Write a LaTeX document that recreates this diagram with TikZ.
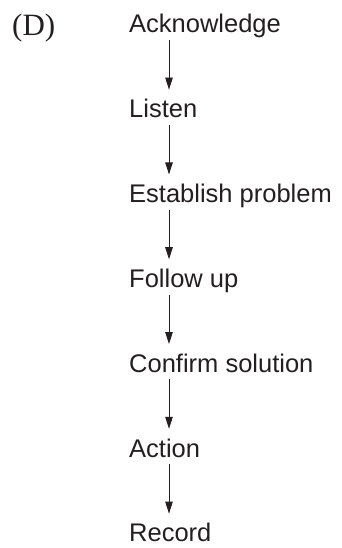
\documentclass[tikz,border=0pt]{standalone}
\usepackage{fontspec}
\setmainfont{Liberation Serif}
\setsansfont{Liberation Sans}
\usepackage{tikz}
\usetikzlibrary{arrows.meta}

\definecolor{ink}{RGB}{35,31,32}

\begin{document}
\begin{tikzpicture}[x=1pt,y=1pt,
	stepname/.style={anchor=base west,inner sep=0pt,text height=18pt,text depth=1pt,
		font=\sffamily\fontsize{25.5}{30}\selectfont,text=ink},
	flow/.style={draw=ink,line width=0.8pt,-{Triangle[length=12pt,width=7.5pt]},
		shorten <=6pt,shorten >=10pt}]
			\useasboundingbox (0,0) rectangle (342,-548);
			\node[anchor=base west,inner sep=0pt,text=ink,font=\fontsize{31}{34}\selectfont] (tag) at (12,-36) {(D)};
			\coordinate (ax) at (169,0);
			\foreach \name/\txt [count=\i from 0] in {s1/Acknowledge,s2/Listen,s3/Establish problem,s4/Follow up,s5/Confirm solution,s6/Action,s7/Record}
			\node[stepname] (\name) at (129,-33-84.8*\i) {\txt};
			\foreach \a/\b in {s1/s2,s2/s3,s3/s4,s4/s5,s5/s6,s6/s7}
			\draw[flow] (\a.south -| ax) -- (\b.north -| ax);
\end{tikzpicture}
\end{document}
